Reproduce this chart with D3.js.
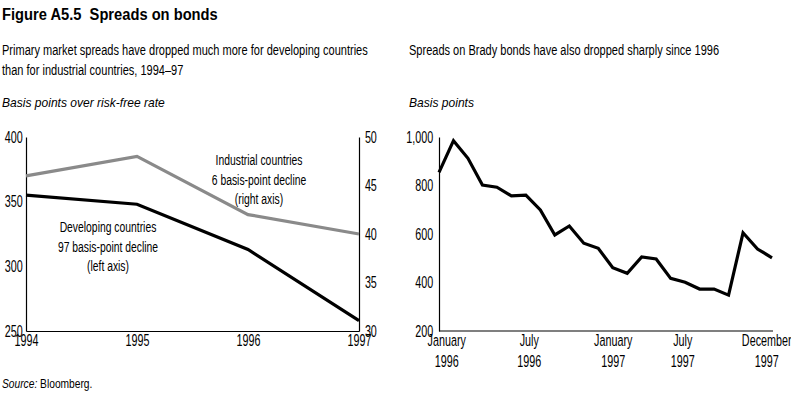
<!DOCTYPE html>
<html>
<head>
<meta charset="utf-8">
<script src="https://cdn.jsdelivr.net/npm/d3@7"></script>
<style>
  body { margin: 0; background: #fff; }
  svg text { font-family: "Liberation Sans", Arial, sans-serif; fill: #000; white-space: pre; }
</style>
</head>
<body>
<div id="chart"></div>
<script>
// left panel: primary market spreads, yearly
const years = [1994, 1995, 1996, 1997]
const developing = [355, 348, 313, 258]   // left axis
const industrial = [46, 48, 42, 40]       // right axis
const leftTicks = [250, 300, 350, 400]
const rightTicks = [30, 35, 40, 45, 50]

// right panel: Brady bond spreads, monthly Jan 1996 - Dec 1997
const bradyMonths = d3.range(24)
const brady = [854, 985, 912, 802, 793, 757, 760, 699, 596, 633, 562, 541,
               461, 438, 505, 497, 417, 401, 373, 373, 348, 605, 538, 502]
const bradyTicks = [200, 400, 600, 800, 1000]
const monthLabelPos = [0.5, 6.2, 12, 16.8, 22.6]
const monthLabels = [["January", "1996"], ["July", "1996"], ["January", "1997"], ["July", "1997"], ["December", "1997"]]

const width = 791
const height = 396

const svg = d3.select("#chart").append("svg")
    .attr("width", width)
    .attr("height", height)

// the original uses a condensed face; squeeze a regular one to the widths in the picture
function fitScale(str, size, target, style = {}) {
  const p = svg.append("text").style("font-size", size + "px")
      .style("font-style", style.italic ? "italic" : null)
      .style("font-weight", style.bold ? "bold" : null)
      .text(str)
  const w = p.node().getComputedTextLength()
  p.remove()
  return target / w
}
const tickSize = 16.5
const kSub = fitScale("Primary market spreads have dropped much more for developing countries", 14, 366)
const kItal = fitScale("Basis points over risk-free rate", 12.5, 163, { italic: true })
const kNote = fitScale("Industrial countries", 14.5, 87)
const kTick = fitScale("1994", tickSize, 24)
const kTitle = fitScale("Figure A5.5  Spreads on bonds", 17, 216, { bold: true })

function label(x, y, str, size, k, opts = {}) {
  return svg.append("text")
      .attr("transform", `translate(${x},${y}) scale(${k},1)`)
      .attr("text-anchor", opts.anchor || "start")
      .style("font-size", size + "px")
      .style("font-style", opts.italic ? "italic" : null)
      .style("font-weight", opts.bold ? "bold" : null)
      .text(str)
}

// titles
label(2, 20, "Figure A5.5  Spreads on bonds", 17, kTitle, { bold: true })

label(2, 55, "Primary market spreads have dropped much more for developing countries", 14, kSub)
label(2, 75, "than for industrial countries, 1994\u201397", 14, kSub)
label(2, 107, "Basis points over risk-free rate", 12.5, kItal, { italic: true })

label(409, 55, "Spreads on Brady bonds have also dropped sharply since 1996", 14, kSub)
label(409, 107, "Basis points", 12.5, kItal, { italic: true })

const src = label(2, 388, "", 13, kSub)
src.append("tspan").style("font-style", "italic").text("Source:")
src.append("tspan").text(" Bloomberg.")

//////// left panel
const xYear = d3.scaleLinear().domain([1994, 1997]).range([26, 359])
const yLeft = d3.scaleLinear().domain([250, 400]).range([331, 137])
const yRight = d3.scaleLinear().domain([30, 50]).range([331, 137])

function styleAxis(g) {
  g.attr("font-family", null).attr("font-size", null)
  g.select(".domain").attr("stroke", "#000").attr("stroke-width", 1.2)
  g.selectAll(".tick text").style("font-size", tickSize + "px")
    .attr("transform", `scale(${kTick},1)`)
}

svg.append("g").attr("transform", "translate(26,0)")
    .call(d3.axisLeft(yLeft).tickValues(leftTicks).tickSize(0).tickSizeOuter(0).tickPadding(5))
    .call(styleAxis)

svg.append("g").attr("transform", "translate(359,0)")
    .call(d3.axisRight(yRight).tickValues(rightTicks).tickSize(0).tickSizeOuter(0).tickPadding(9))
    .call(styleAxis)

svg.append("g").attr("transform", "translate(0,331)")
    .call(d3.axisBottom(xYear).tickValues(years).tickFormat(d3.format("d")).tickSize(0).tickSizeOuter(0).tickPadding(3))
    .call(styleAxis)

const lineInd = d3.line().x((d, i) => xYear(years[i])).y(d => yRight(d))
const lineDev = d3.line().x((d, i) => xYear(years[i])).y(d => yLeft(d))

svg.append("path").datum(industrial)
    .attr("d", lineInd).attr("fill", "none")
    .attr("stroke", "#8a8a8a").attr("stroke-width", 3.2)
svg.append("path").datum(developing)
    .attr("d", lineDev).attr("fill", "none")
    .attr("stroke", "#000").attr("stroke-width", 3.2)

const noteInd = ["Industrial countries", "6 basis-point decline", "(right axis)"]
const noteDev = ["Developing countries", "97 basis-point decline", "(left axis)"]
noteInd.forEach((d, i) => label(259, 165 + i * 19.5, d, 14.5, kNote, { anchor: "middle" }))
noteDev.forEach((d, i) => label(108, 232 + i * 19.5, d, 14.5, kNote, { anchor: "middle" }))

//////// right panel
const xMonth = d3.scaleLinear().domain([0, 23]).range([439, 772])
const yBrady = d3.scaleLinear().domain([200, 1000]).range([331, 137])

svg.append("g").attr("transform", "translate(439,0)")
    .call(d3.axisLeft(yBrady).tickValues(bradyTicks).tickFormat(d3.format(",")).tickSize(0).tickSizeOuter(0).tickPadding(9))
    .call(styleAxis)

const xAx = svg.append("g").attr("transform", "translate(0,331)")
    .call(d3.axisBottom(xMonth).tickValues(monthLabelPos).tickFormat("").tickSize(0).tickSizeOuter(0))
    .call(styleAxis)
xAx.select(".domain").attr("d", `M${xMonth(0)},0H${xMonth(23) + 1}`)
xAx.selectAll(".tick").each(function(d, i) {
  const t = d3.select(this).append("text")
      .attr("text-anchor", "middle").style("font-size", tickSize + "px")
      .attr("transform", `scale(${kTick},1)`)
  t.append("tspan").attr("x", 0).attr("y", 14.5).text(monthLabels[i][0])
  t.append("tspan").attr("x", 0).attr("y", 36.5).text(monthLabels[i][1])
})

const lineBrady = d3.line().x((d, i) => xMonth(bradyMonths[i])).y(d => yBrady(d))
svg.append("path").datum(brady)
    .attr("d", lineBrady).attr("fill", "none")
    .attr("stroke", "#000").attr("stroke-width", 3.2)
    .attr("stroke-linejoin", "miter")
</script>
</body>
</html>
